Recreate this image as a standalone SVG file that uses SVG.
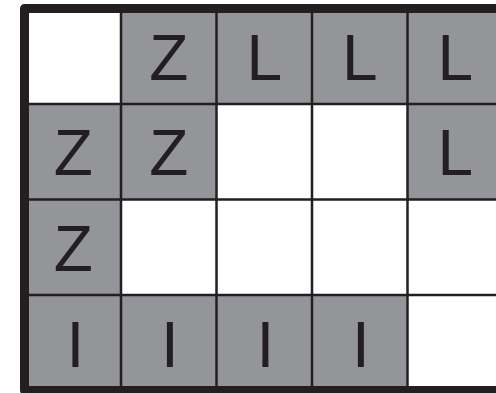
<svg xmlns="http://www.w3.org/2000/svg" width="496" height="393" viewBox="0 0 496 393">
<style>
.g{fill:#939598}
.t{font-family:"Liberation Sans",Arial,sans-serif;font-size:64px;fill:#231f20;text-anchor:middle}
.ln{stroke:#231f20;stroke-width:2.5;fill:none}
.bd{stroke:#231f20;stroke-width:9;fill:none;stroke-linejoin:round}
</style>
<rect width="496" height="393" fill="#fff"/>
<g id="cells">
<rect class="g" x="121" y="8.5" width="95.5" height="95.5"/>
<rect class="g" x="216.5" y="8.5" width="95.5" height="95.5"/>
<rect class="g" x="312" y="8.5" width="95.5" height="95.5"/>
<rect class="g" x="407.5" y="8.5" width="95.5" height="95.5"/>
<rect class="g" x="25.5" y="104" width="95.5" height="95.5"/>
<rect class="g" x="121" y="104" width="95.5" height="95.5"/>
<rect class="g" x="407.5" y="104" width="95.5" height="95.5"/>
<rect class="g" x="25.5" y="199.5" width="95.5" height="95.5"/>
<rect class="g" x="25.5" y="295" width="95.5" height="95.5"/>
<rect class="g" x="121" y="295" width="95.5" height="95.5"/>
<rect class="g" x="216.5" y="295" width="95.5" height="95.5"/>
<rect class="g" x="312" y="295" width="95.5" height="95.5"/>
</g>
<g id="grid">
<path class="ln" d="M121 8.5V390.5M216.5 8.5V390.5M312 8.5V390.5M407.5 8.5V390.5M24.5 104H500M24.5 199.5H500M24.5 295H500"/>
<path class="bd" d="M500 8.5H24.5V390.5H500"/>
</g>
<g id="labels">
<text class="t" x="168.75" y="80">Z</text>
<text class="t" x="264.25" y="80">L</text>
<text class="t" x="359.75" y="80">L</text>
<text class="t" x="455.25" y="80">L</text>
<text class="t" x="73.25" y="175">Z</text>
<text class="t" x="168.75" y="175">Z</text>
<text class="t" x="455.25" y="175">L</text>
<text class="t" x="73.25" y="270.5">Z</text>
<text class="t" x="75.5" y="366.5">I</text>
<text class="t" x="170" y="366.5">I</text>
<text class="t" x="265.5" y="366.5">I</text>
<text class="t" x="361" y="366.5">I</text>
</g>
</svg>
